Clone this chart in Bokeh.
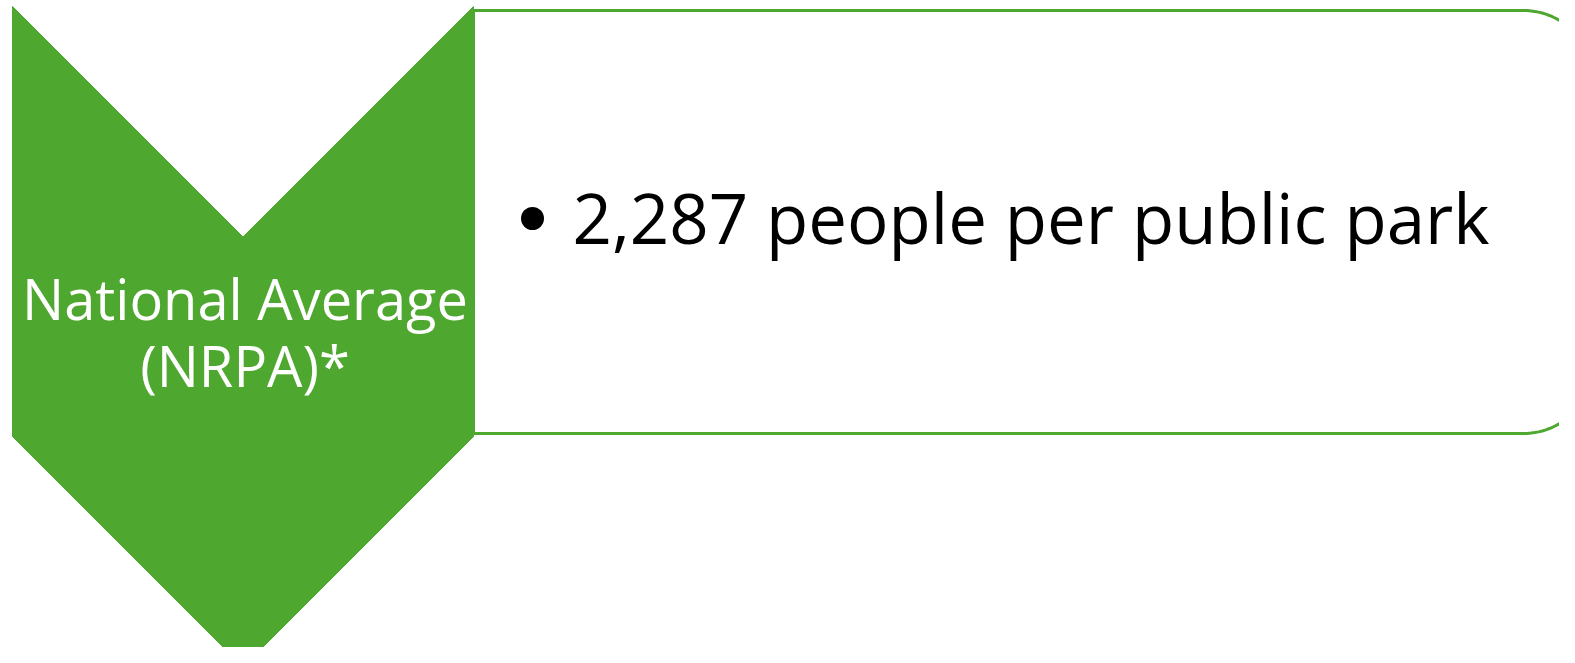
import numpy as np
from bokeh.plotting import figure
from bokeh.models import Range1d
from bokeh.core.properties import value
from bokeh.embed import file_html
from bokeh.resources import INLINE

# content
label_lines = ["National Average", "(NRPA)*"]
bullet_items = ["2,287 people per public park"]

GREEN = "#4EA72E"
FONT = "Open Sans"

W, H = 1559, 647
p = figure(width=W, height=H, output_backend="svg", toolbar_location=None,
           x_range=Range1d(0, W), y_range=Range1d(H, 0),
           min_border=0)
p.axis.visible = False
p.grid.visible = False
p.outline_line_color = None
p.background_fill_color = "white"
p.border_fill_color = "white"

# layout (reference pixel space)
cx0, cx1 = 12, 473          # chevron left/right
ctop, cbot = 6, 436         # chevron top/bottom of straight sides
half = (cx1 - cx0) / 2
cmid = (cx0 + cx1) / 2

rx0, rx1 = 473, 1593        # rounded box left/right
ry0, ry1 = 10, 433          # rounded box top/bottom
rad = 70

# rounded box (right corners rounded)
t1 = np.linspace(-np.pi / 2, 0, 30)
t2 = np.linspace(0, np.pi / 2, 30)
bx = [rx0] + list(rx1 - rad + rad * np.cos(t1)) + list(rx1 - rad + rad * np.cos(t2)) + [rx0]
by = [ry0] + list(ry0 + rad + rad * np.sin(t1)) + list(ry1 - rad + rad * np.sin(t2)) + [ry1]
p.patch(bx, by, fill_color="white", line_color=GREEN, line_width=3)

# chevron
chx = [cx0, cmid, cx1, cx1, cmid, cx0]
chy = [ctop, ctop + half, ctop, cbot, cbot + half, cbot]
p.patch(chx, chy, fill_color=GREEN, line_color=GREEN, line_width=1)

# label
p.text(x=[cmid + 2] * len(label_lines), y=[297, 364], text=label_lines,
       text_color="white", text_font=value(FONT), text_font_size="56px",
       text_align="center", text_baseline="alphabetic")

# bullet marker and text
p.scatter(x=[532], y=[218], size=23, marker="circle", fill_color="black",
          line_color=None)
p.text(x=[572], y=[216], text=bullet_items, text_color="black",
       text_font=value(FONT), text_font_size="69px",
       text_align="left", text_baseline="alphabetic")

open("out.html", "w").write(file_html(p, INLINE))
